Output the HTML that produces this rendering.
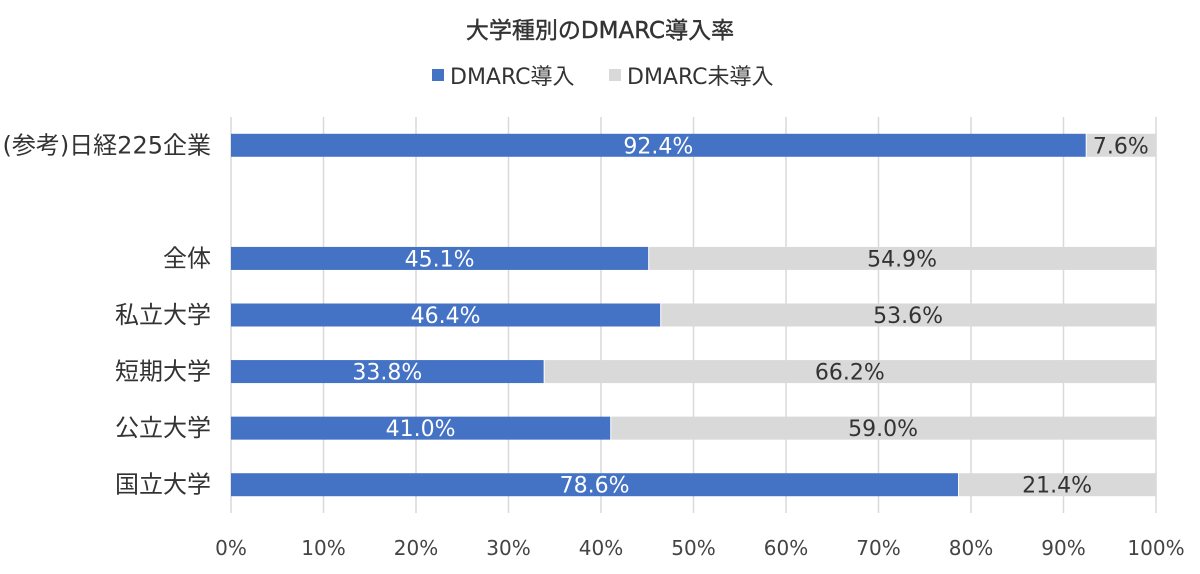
<!DOCTYPE html>
<html><head><meta charset="utf-8"><style>
body{margin:0;background:#fff;}
svg{font-family:"DejaVu Sans","Noto Sans CJK JP",sans-serif;}
</style></head><body>
<svg id="chart" width="1200" height="569">
<text x="600" y="38" text-anchor="middle" font-size="23" fill="#333" stroke="#333" stroke-width="0.4">大学種別のDMARC導入率</text>
<g>
<rect x="432" y="69" width="12" height="12" fill="#4472C4"/>
<text x="450" y="84" font-size="22" fill="#333">DMARC導入</text>
<rect x="609" y="69" width="12" height="12" fill="#D9D9D9"/>
<text x="627" y="84" font-size="22" fill="#333">DMARC未導入</text>
</g>
<g id="grid"></g><g id="bars"></g><g id="labels"></g>
</svg>
<script>
const categories=["(参考)日経225企業","","全体","私立大学","短期大学","公立大学","国立大学"];
const adopted=[92.4,null,45.1,46.4,33.8,41.0,78.6];
const notAdopted=[7.6,null,54.9,53.6,66.2,59.0,21.4];
const ticks=[0,10,20,30,40,50,60,70,80,90,100];
const NS="http://www.w3.org/2000/svg";
const x0=231,x1=1156,yTop=117,yBot=513;
const xs=v=>x0+(x1-x0)*v/100;
const step=(yBot-yTop)/categories.length;
const yc=i=>yTop+step*(i+0.5);
const bh=23;
function mk(tag,attrs,parent){const e=document.createElementNS(NS,tag);for(const k in attrs)e.setAttribute(k,attrs[k]);parent.appendChild(e);return e;}
const grid=document.getElementById('grid'),bars=document.getElementById('bars'),labels=document.getElementById('labels');
ticks.forEach(t=>{
 const l=mk('line',{x1:xs(t),x2:xs(t),y1:yTop,y2:yBot,stroke:'#D9D9D9','stroke-width':1.5},grid);
 
 
 const tx=mk('text',{x:xs(t),y:555,'text-anchor':'middle','font-size':20,fill:'#444'},grid);
 tx.textContent=t+'%';
 
 
});
categories.forEach((c,i)=>{
 if(adopted[i]==null)return;
 const y=yc(i);
 const cl=mk('text',{x:211,y:y+8,'text-anchor':'end','font-size':24,fill:'#333'},labels);
 cl.textContent=c;
 
 
 const a=mk('rect',{x:xs(0),y:y-bh/2,width:xs(adopted[i])-xs(0),height:bh,fill:'#4472C4'},bars);
 
 
 const b=mk('rect',{x:xs(adopted[i])+1,y:y-bh/2,width:xs(adopted[i]+notAdopted[i])-xs(adopted[i])-1,height:bh,fill:'#D9D9D9'},bars);
 
 
 const ta=mk('text',{x:(xs(0)+xs(adopted[i]))/2,y:y+8,'text-anchor':'middle','font-size':22,fill:'#fff'},labels);
 ta.textContent=adopted[i].toFixed(1)+'%';
 
 
 const tb=mk('text',{x:(xs(adopted[i])+xs(adopted[i]+notAdopted[i]))/2,y:y+8,'text-anchor':'middle','font-size':22,fill:'#333'},labels);
 tb.textContent=notAdopted[i].toFixed(1)+'%';
 
 
});
</script>
</body></html>
